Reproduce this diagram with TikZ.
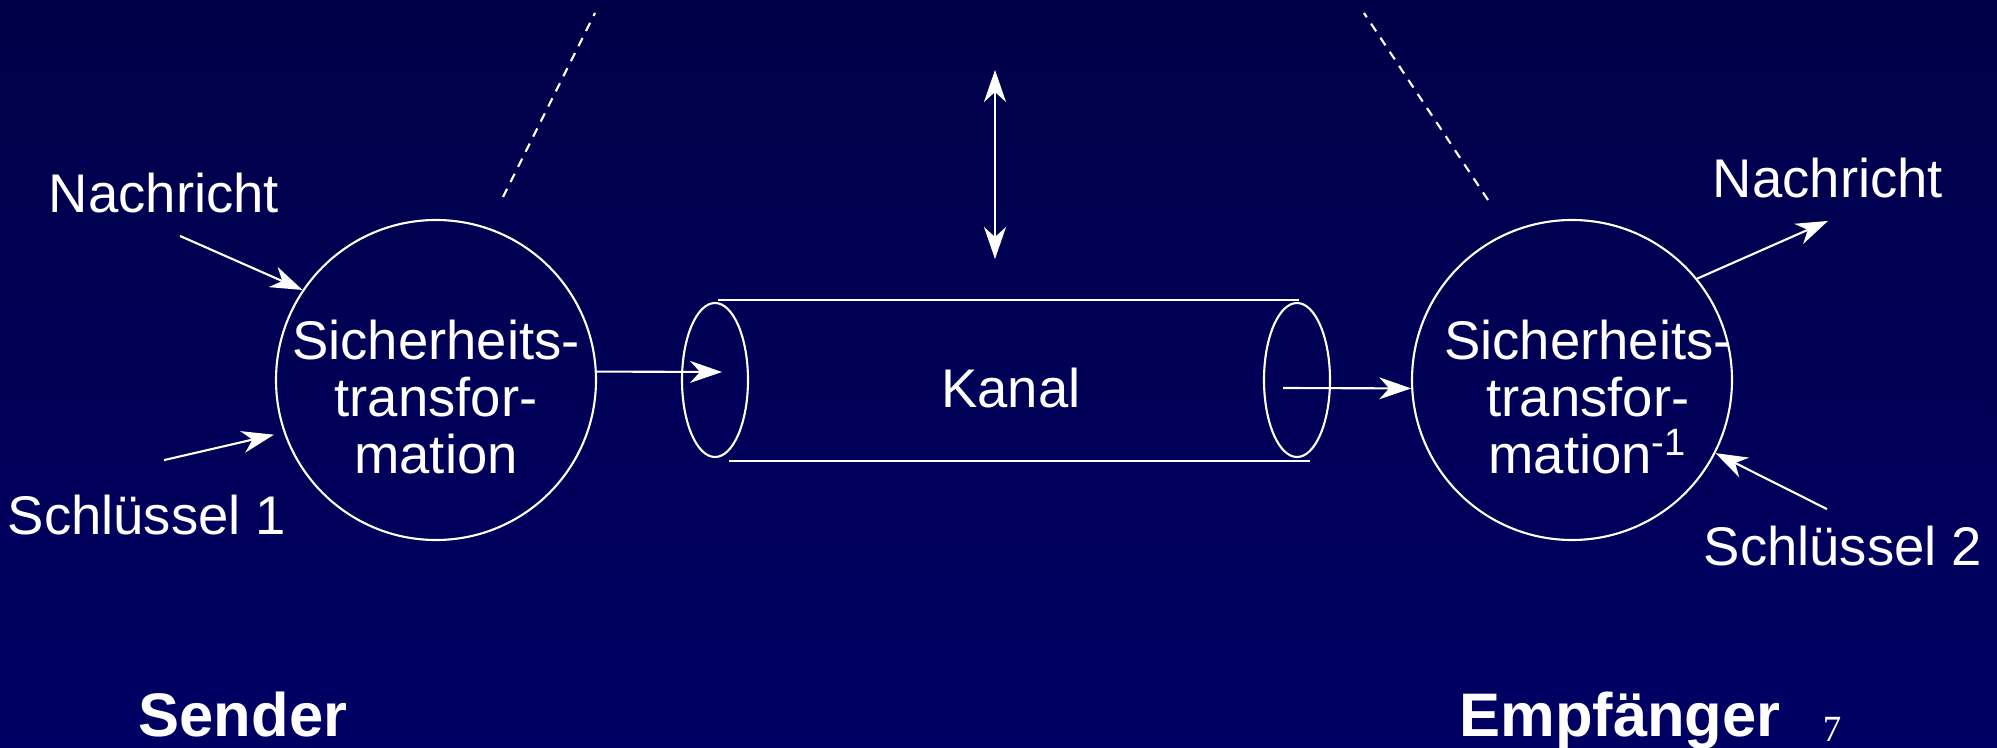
\documentclass[tikz,border=0pt]{standalone}
\usepackage{fontspec}
\setmainfont{Liberation Sans}
\newfontfamily\pagefont{Liberation Serif}
\definecolor{slidetop}{RGB}{0, 0, 72}
\definecolor{slidebot}{RGB}{0, 0, 100}
\usetikzlibrary{arrows.meta, positioning, calc, shapes.geometric}
\tikzset{
  % Plain white label text on the dark slide.
  lbl/.style={
    text=white,
    font=\fontsize{15.5}{16.2}\selectfont,
    align=center,
  },
  % Bold role names at the bottom.
  role/.style={
    text=white,
    font=\fontsize{17.5}{18}\selectfont\bfseries,
  },
  % Transformation body (round, white outline).
  trafo/.style={
    circle, draw=white, line width=0.6pt,
    minimum size=3.2cm, inner sep=0pt,
  },
  % Channel end caps.
  cap-ring/.style={
    ellipse, draw=white, line width=0.6pt,
    minimum width=0.66cm, minimum height=1.54cm, inner sep=0pt,
  },
  % Arrows.
  flow/.style={
    -{Stealth[length=3.2mm, width=2.2mm, inset=1mm]},
    line width=0.6pt,
    draw=white,
  },
  flow-both/.style={
    {Stealth[length=3.2mm, width=2.2mm, inset=1mm]}-{Stealth[length=3.2mm, width=2.2mm, inset=1mm]},
    line width=0.6pt,
    draw=white,
  },
  guide/.style={
    draw=white, line width=0.6pt,
    dash pattern=on 2.6pt off 2.2pt,
  },
}

\begin{document}
\begin{tikzpicture}

  % Slide background.
  \shade[top color=slidetop, bottom color=slidebot] (0, 0) rectangle (19.97, -7.48);
  \useasboundingbox (0, 0) rectangle (19.97, -7.48);

  % Sender side.
  \node[trafo] (sendT) at (4.36, -3.80) {};
  \node[lbl, inner sep=0pt] (sendTxt) at (4.36, -3.97) {Sicherheits-\\transfor-\\mation};
  \node[lbl, anchor=base] (nachL) at (1.64, -2.13) {Nachricht};
  \node[lbl, anchor=base] (keyL) at (1.47, -5.34) {Schlüssel 1};

  % Receiver side.
  \node[trafo] (recvT) at (15.72, -3.80) {};
  \node[lbl, inner sep=0pt] (recvTxt) at (15.88, -3.97) {Sicherheits-\\transfor-\\mation\textsuperscript{-1}};
  \node[lbl, anchor=base] (nachR) at (18.28, -1.98) {Nachricht};
  \node[lbl, anchor=base] (keyR) at (18.43, -5.65) {Schlüssel 2};

  % Channel (cylinder).
  \node[cap-ring] (cylL) at (7.15, -3.80) {};
  \node[cap-ring] (cylR) at (12.97, -3.80) {};
  \coordinate (topA) at (7.18, -3.00);
  \coordinate (topB) at (12.99, -3.00);
  \coordinate (botA) at (7.29, -4.61);
  \coordinate (botB) at (13.10, -4.61);
  \draw[white, line width=0.8pt] (topA) -- (topB);
  \draw[white, line width=0.8pt] (botA) -- (botB);
  \node[lbl, anchor=base] (kanal) at (10.11, -4.07) {Kanal};

  % Attacker access to the channel.
  \coordinate (chUp) at (9.95, -0.70);
  \coordinate (chDn) at (9.95, -2.59);
  \draw[flow-both] (chUp) -- (chDn);

  % Dashed guide lines.
  \coordinate (gL1) at (5.03, -1.97);
  \coordinate (gL2) at (5.95, -0.13);
  \coordinate (gR1) at (14.88, -2.00);
  \coordinate (gR2) at (13.64, -0.13);
  \draw[guide] (gL1) -- (gL2);
  \draw[guide] (gR1) -- (gR2);

  % Inputs and outputs.
  \coordinate (chIn) at (7.22, -3.72);
  \coordinate (chOut) at (12.83, -3.88);
  \draw[flow] ($(nachL.south)+(0.16,-0.10)$) -- (sendT.146);
  \draw[flow, shorten >=1mm] ($(keyL.north)+(0.17,0.22)$) -- (sendT.199);
  \draw[flow] (sendT.3) -- (chIn);
  \draw[flow] (chOut) -- (recvT.183);
  \draw[flow] (recvT.39) -- ($(nachR.south)+(0,-0.10)$);
  \draw[flow] ($(keyR.north)+(-0.16,0.04)$) -- (recvT.-27);

  % Role names and page number.
  \node[role, anchor=base] (sender) at (2.43, -7.36) {Sender};
  \node[role, anchor=base] (empf) at (16.20, -7.36) {Empfänger};
  \node[text=white, anchor=base, font=\pagefont\fontsize{10.5}{11}\selectfont] (pgno) at (18.32, -7.41) {7};

\end{tikzpicture}
\end{document}
